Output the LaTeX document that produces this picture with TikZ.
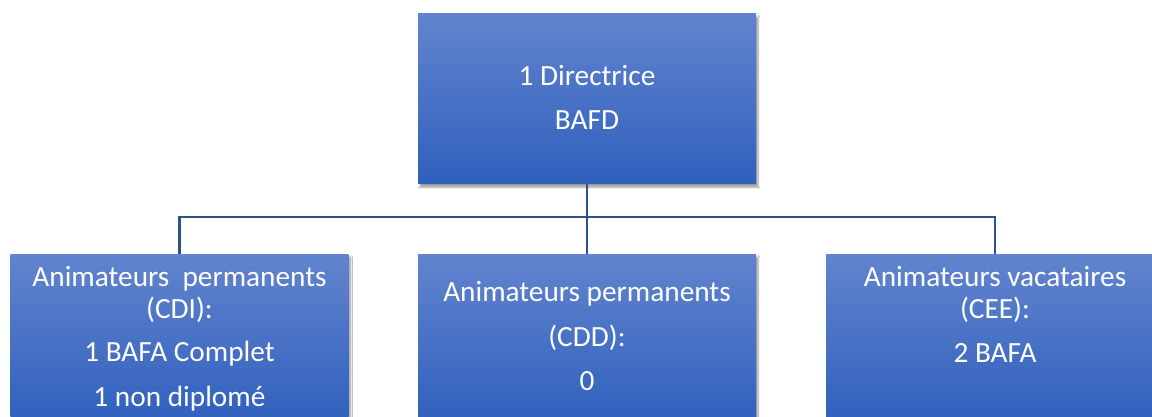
\documentclass[tikz,border=0pt]{standalone}
\usepackage{fontspec}
\setmainfont{Carlito}
\usetikzlibrary{shadows.blur}
\definecolor{boxtop}{RGB}{98,132,206}
\definecolor{boxbot}{RGB}{47,96,189}
\definecolor{linecol}{RGB}{47,82,143}
\tikzset{
  orgbox/.style={rectangle, minimum width=338pt, minimum height=170pt, inner sep=0pt,
    top color=boxtop, bottom color=boxbot, draw=none,
    blur shadow={shadow xshift=2pt, shadow yshift=-3pt, shadow blur steps=6, shadow opacity=40}},
  lbl/.style={anchor=base, text=white, inner sep=0pt, font=\fontsize{29.3}{34}\selectfont},
  conn/.style={draw=linecol, line width=2.4pt}
}
\begin{document}
\begin{tikzpicture}[x=1pt,y=-1pt]
\useasboundingbox (0,0) rectangle (1152,417);
\clip (0,0) rectangle (1152,417);
\fill[white] (0,0) rectangle (1152,417);
\coordinate (bus) at (587,217);
\node[orgbox] (top) at (587,99) {};
\node[orgbox] (left) at (179.5,339) {};
\node[orgbox] (mid) at (587,339) {};
\node[orgbox] (right) at (995,339) {};
\draw[conn] (top.south) -- (bus);
\draw[conn] (bus) -| (left.north);
\draw[conn] (bus) -- (mid.north);
\draw[conn] (bus) -| (right.north);
\node[lbl] (t1) at (587,86) {1 Directrice};
\node[lbl] (t2) at (587,130) {BAFD};
\node[lbl] (l1) at (179.5,286) {Animateurs\ \ permanents};
\node[lbl] (l2) at (179.5,318.3) {(CDI):};
\node[lbl] (l3) at (179.5,361.7) {1 BAFA Complet};
\node[lbl] (l4) at (179.5,406.7) {1 non diplomé};
\node[lbl] (m1) at (587,301.7) {Animateurs permanents};
\node[lbl] (m2) at (587,346) {(CDD):};
\node[lbl] (m3) at (587,390.7) {0};
\node[lbl] (r1) at (995,286) {Animateurs vacataires};
\node[lbl] (r2) at (995,318.3) {(CEE):};
\node[lbl] (r3) at (995,362.3) {2 BAFA};
\end{tikzpicture}
\end{document}
